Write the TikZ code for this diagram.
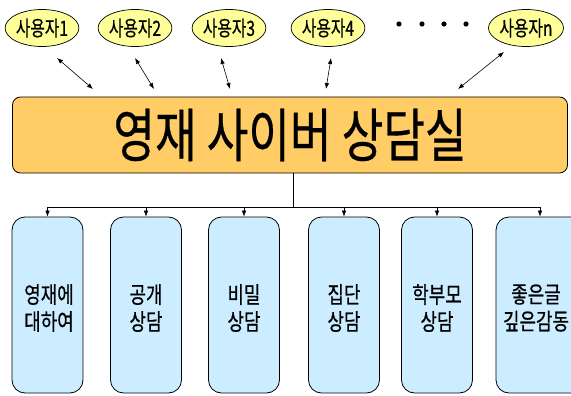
\documentclass[tikz,border=0pt]{standalone}
\usepackage{fontspec}
\usepackage{graphicx}
\newfontfamily\kr[FakeBold=0.6]{Noto Sans CJK KR}
\usetikzlibrary{arrows.meta,shapes.geometric}
\definecolor{useryellow}{HTML}{FFFF99}
\definecolor{mainorange}{HTML}{FFCC66}
\definecolor{subblue}{HTML}{CCECFF}
\newcommand{\sq}[2]{\scalebox{#1}[1]{#2}}
\begin{document}
\begin{tikzpicture}[x=1pt,y=-1pt,
  user/.style={ellipse,draw=black,line width=0.7pt,fill=useryellow,minimum width=72pt,minimum height=37pt,inner sep=0pt,font=\kr\fontsize{21}{23}\selectfont},
  mainbox/.style={rectangle,rounded corners=8pt,draw=black,line width=0.8pt,fill=mainorange,minimum width=555pt,minimum height=76pt,inner sep=0pt,font=\kr\fontsize{58}{62}\selectfont},
  subbox/.style={rectangle,rounded corners=13pt,draw=black,line width=0.8pt,fill=subblue,minimum width=71pt,minimum height=176pt,inner sep=0pt,align=center,font=\kr\fontsize{23}{27}\selectfont},
  subtext/.style={align=center,inner sep=0pt,font=\kr\fontsize{23}{27}\selectfont},
  dbl/.style={{Latex[length=6pt,width=4.5pt]}-{Latex[length=6pt,width=4.5pt]},line width=0.6pt},
  one/.style={-{Latex[length=6pt,width=4.5pt]},line width=0.6pt}]
\useasboundingbox (0,0) rectangle (571,396);
\node[user] (u1) at (42,28) {\sq{0.75}{사용자1}};
\node[user] (u2) at (135,28) {\sq{0.75}{사용자2}};
\node[user] (u3) at (229,28) {\sq{0.75}{사용자3}};
\node[user] (u4) at (328,28) {\sq{0.75}{사용자4}};
\node[user] (un) at (526,28) {\sq{0.75}{사용자n}};
\foreach \x in {399,422,444,466} \fill (\x,24) circle (2.6pt);
\node[mainbox] (m) at (290,135) {\sq{0.78}{영재 사이버 상담실}};
\coordinate (a1) at (57,58); \coordinate (b1) at (93,89);
\coordinate (a2) at (135,58); \coordinate (b2) at (154,89);
\coordinate (a3) at (221,58); \coordinate (b3) at (230,89);
\coordinate (a4) at (331,58); \coordinate (b4) at (326,89);
\coordinate (an) at (504,52); \coordinate (bn) at (458,89);
\draw[dbl] (a1) -- (b1);
\draw[dbl] (a2) -- (b2);
\draw[dbl] (a3) -- (b3);
\draw[dbl] (a4) -- (b4);
\draw[dbl] (an) -- (bn);
\node[subbox] (s1) at (47.5,305) {};
\node[subbox] (s2) at (146,305) {};
\node[subbox] (s3) at (244,305) {};
\node[subbox] (s4) at (344,305) {};
\node[subbox] (s5) at (437,305) {};
\node[subbox,minimum width=88pt] (s6) at (540,305) {};
\node[subtext] (t1) at (49,308) {\sq{0.78}{영재에}\\\sq{0.78}{대하여}};
\node[subtext] (t2) at (146,308) {\sq{0.78}{공개}\\\sq{0.78}{상담}};
\node[subtext] (t3) at (244,308) {\sq{0.78}{비밀}\\\sq{0.78}{상담}};
\node[subtext] (t4) at (344,308) {\sq{0.78}{집단}\\\sq{0.78}{상담}};
\node[subtext] (t5) at (437,308) {\sq{0.78}{학부모}\\\sq{0.78}{상담}};
\node[subtext] (t6) at (536,308) {\sq{0.78}{좋은글}\\\sq{0.78}{깊은감동}};
\coordinate (j) at (293,207);
\draw[line width=0.6pt] (m.south -| j) -- (j);
\draw[line width=0.6pt] (s1.north |- j) -- (s6.north |- j);
\foreach \s in {s1,s2,s3,s4,s5,s6} \draw[one] (\s.north |- j) -- (\s.north);
\end{tikzpicture}
\end{document}
